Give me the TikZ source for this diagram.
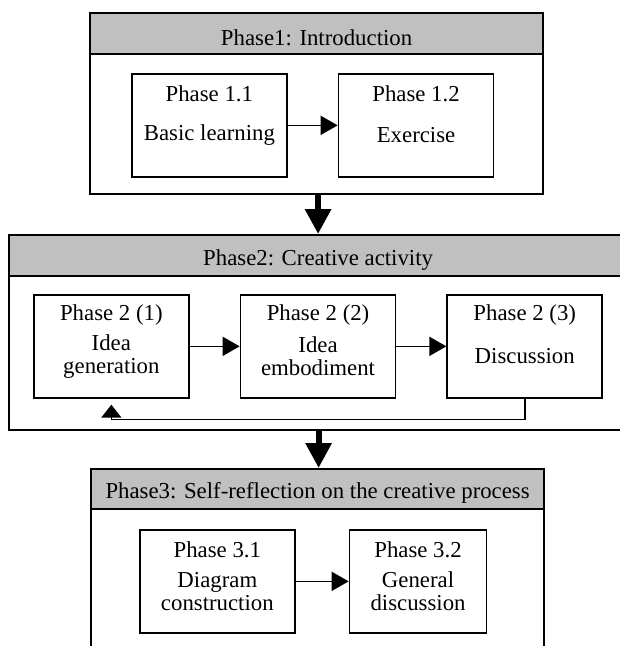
\documentclass[tikz,border=0pt]{standalone}
\usepackage{fontspec}
\setmainfont{Liberation Serif}
\usetikzlibrary{positioning,arrows.meta}
\definecolor{headgray}{RGB}{192,192,192}
\begin{document}
\begin{tikzpicture}[x=1pt,y=1pt,
    every node/.style={font=\fontsize{22.8}{23}\selectfont},
    phase/.style={draw,line width=2.2pt,inner sep=0pt,anchor=north west},
    phasehead/.style={draw,line width=2.2pt,fill=headgray,inner sep=0pt,anchor=north west,minimum height=41pt},
    stage/.style={draw,line width=1.7pt,inner sep=0pt,minimum width=155pt,minimum height=103pt},
    flow/.style={line width=1.5pt,-{Triangle[length=17pt,width=19pt]}},
    bigflow/.style={line width=6pt,-{Triangle[length=25pt,width=25pt]}}]
    \newcommand{\stagetext}[3]{
        \node (#1title) at ([yshift=-21pt]#1.north) {#2};
        \node[align=center] (#1body) at ([yshift=-62.5pt]#1.north) {#3};
    }
    \useasboundingbox (0,0) rectangle (620,-646);
    \clip (0,0) rectangle (620,-646);

    \node[phase,minimum width=453pt,minimum height=181pt] (phaseA) at (89,-12) {};
    \node[phasehead,minimum width=453pt] (headA) at (phaseA.north west) {};
    \node[yshift=-4pt] (headAtext) at (headA) {Phase1: Introduction};

    \node[phase,minimum width=618pt,minimum height=195pt] (phaseB) at (8,-234) {};
    \node[phasehead,minimum width=618pt] (headB) at (phaseB.north west) {};
    \node[yshift=-4pt] (headBtext) at (headB) {Phase2: Creative activity};

    \node[phase,minimum width=453pt,minimum height=200pt] (phaseC) at (90,-468) {};
    \node[phasehead,minimum width=453pt,minimum height=40pt] (headC) at (phaseC.north west) {};
    \node[yshift=-4pt] (headCtext) at (headC) {Phase3: Self-reflection on the creative process};

    \node[stage,anchor=north west] (basic) at (131,-73) {};
    \node[stage,right=50pt of basic] (exercise) {};
    \stagetext{basic}{Phase 1.1}{Basic learning}
    \stagetext{exercise}{Phase 1.2}{Exercise}

    \node[stage,anchor=north west] (ideagen) at (33,-294) {};
    \node[stage,right=50pt of ideagen] (embody) {};
    \node[stage,right=50pt of embody] (discuss) {};
    \stagetext{ideagen}{Phase 2 (1)}{Idea\\generation}
    \stagetext{embody}{Phase 2 (2)}{Idea\\embodiment}
    \stagetext{discuss}{Phase 2 (3)}{Discussion}

    \node[stage,anchor=north west] (diagram) at (139,-529) {};
    \node[stage,minimum width=137pt,right=53pt of diagram] (gendisc) {};
    \stagetext{diagram}{Phase 3.1}{Diagram\\construction}
    \stagetext{gendisc}{Phase 3.2}{General\\discussion}

    \draw[flow] (basic) -- (exercise);
    \draw[flow] (ideagen) -- (embody);
    \draw[flow] (embody) -- (discuss);
    \draw[flow] (diagram) -- (gendisc);
    \draw[line width=1.5pt,-{Triangle[length=13pt,width=20pt]}] (discuss.south) -- ++(0,-21) -| ([yshift=-6pt]ideagen.south);

    \draw[bigflow] ([xshift=1.5pt]phaseA.south) -- ([xshift=1.5pt]phaseA.south |- phaseB.north);
    \draw[bigflow] ([xshift=1pt]phaseB.south -| phaseC.north) -- ([xshift=1pt]phaseC.north);

\end{tikzpicture}
\end{document}
